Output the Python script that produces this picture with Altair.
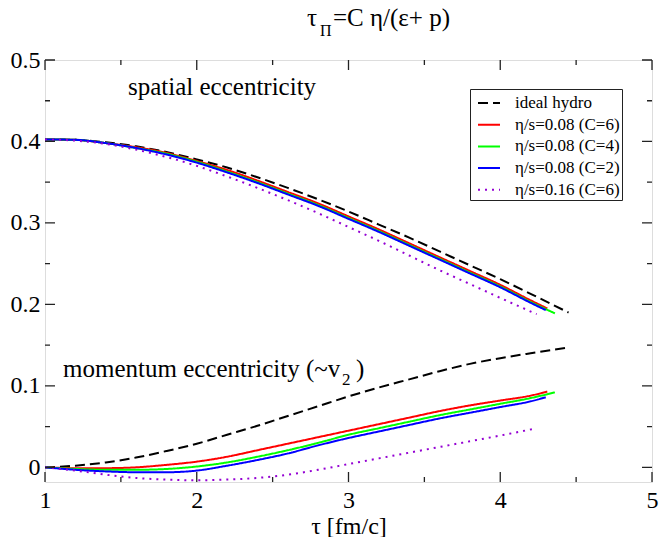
import altair as alt
import pandas as pd

# ---------------- data ----------------
models = ["ideal hydro", "η/s=0.08 (C=6)", "η/s=0.08 (C=4)", "η/s=0.08 (C=2)", "η/s=0.16 (C=6)"]
colors = ["#000000", "#ff0000", "#00ff00", "#0000ff", "#9400d3"]

base_tau = [1.0, 1.2, 1.4, 1.6, 1.8, 2.0, 2.2, 2.4, 2.6, 2.8, 3.0, 3.2, 3.4, 3.6, 3.8, 4.0, 4.2]

ideal_tau = base_tau + [4.45]
ideal_spatial = [0.4025, 0.402, 0.399, 0.394, 0.387, 0.378, 0.368, 0.356, 0.343, 0.329,
                 0.314, 0.298, 0.282, 0.265, 0.248, 0.231, 0.213, 0.190]
ideal_momentum = [0.0, 0.002, 0.006, 0.012, 0.020, 0.029, 0.040, 0.051, 0.063, 0.075,
                  0.087, 0.098, 0.108, 0.118, 0.127, 0.134, 0.140, 0.147]

red_tau = base_tau + [4.31]
red_spatial = [0.4025, 0.402, 0.398, 0.393, 0.386, 0.376, 0.365, 0.352, 0.338, 0.324,
               0.308, 0.292, 0.275, 0.258, 0.241, 0.224, 0.205, 0.195]
red_momentum = [0.0, -0.001, -0.001, 0.000, 0.003, 0.007, 0.013, 0.021, 0.029, 0.037,
                0.045, 0.053, 0.061, 0.069, 0.076, 0.082, 0.088, 0.093]

green_tau = base_tau + [4.36]
green_spatial = [0.4025, 0.402, 0.398, 0.392, 0.385, 0.375, 0.363, 0.350, 0.336, 0.322,
                 0.306, 0.290, 0.273, 0.256, 0.239, 0.222, 0.203, 0.189]
green_momentum = [0.0, -0.002, -0.003, -0.003, -0.002, 0.001, 0.006, 0.013, 0.021, 0.030,
                  0.040, 0.048, 0.056, 0.064, 0.071, 0.078, 0.085, 0.092]

blue_tau = base_tau + [4.30]
blue_spatial = [0.4025, 0.402, 0.398, 0.392, 0.384, 0.374, 0.362, 0.349, 0.335, 0.321,
                0.305, 0.289, 0.272, 0.255, 0.238, 0.221, 0.202, 0.193]
blue_momentum = [0.0, -0.003, -0.005, -0.006, -0.006, -0.004, 0.002, 0.009, 0.017, 0.027,
                 0.036, 0.044, 0.052, 0.060, 0.067, 0.074, 0.081, 0.086]

purple_tau = base_tau[:-1] + [4.24]
purple_spatial = [0.4025, 0.401, 0.397, 0.390, 0.381, 0.370, 0.357, 0.343, 0.328, 0.312,
                  0.295, 0.278, 0.260, 0.242, 0.225, 0.208, 0.188]
purple_momentum = [0.0, -0.004, -0.009, -0.013, -0.015, -0.016, -0.015, -0.013, -0.009, -0.003,
                   0.004, 0.011, 0.018, 0.025, 0.032, 0.039, 0.048]

x_major = [1, 2, 3, 4, 5]
x_minor = [1.5, 2.5, 3.5, 4.5]
y_major = [0.0, 0.1, 0.2, 0.3, 0.4, 0.5]
y_minor = [0.05, 0.15, 0.25, 0.35, 0.45]
x_lim = [1, 5]
y_lim = [-0.018, 0.5]

title_main = ["τ", "Π", "=C η/(ε+ p)"]
note_spatial = ["spatial eccentricity"]
note_momentum = ["momentum eccentricity (~v", "2", ")"]
x_title = "τ [fm/c]"

W, H = 607, 422
FONT = "Liberation Serif, Times New Roman, Times, DejaVu Serif, serif"
MAJ, MIN = 10, 5
TICK = "tick"

# ---------------- build one table (curves + tick segments) ----------------
series = [
    (models[0], ideal_tau, ideal_spatial, ideal_momentum),
    (models[1], red_tau, red_spatial, red_momentum),
    (models[2], green_tau, green_spatial, green_momentum),
    (models[3], blue_tau, blue_spatial, blue_momentum),
    (models[4], purple_tau, purple_spatial, purple_momentum),
]
rows = []
for m, taus, sp, mo in series:
    for t, v in zip(taus, sp):
        rows.append({"model": m, "kind": "spatial", "tau": t, "ecc": v})
    for t, v in zip(taus, mo):
        rows.append({"model": m, "kind": "momentum", "tau": t, "ecc": v})

# one pixel expressed in data units (from the scale's domain and range)
px_x = (x_lim[1] - x_lim[0]) / W
px_y = (y_lim[1] - y_lim[0]) / H

tid = 0
for vals, L in ((x_major, MAJ), (x_minor, MIN)):
    for t in vals:
        for edge, sgn in ((y_lim[0], 1), (y_lim[1], -1)):
            k = f"t{tid}"
            rows.append({"model": TICK, "kind": k, "tau": t, "ecc": edge})
            rows.append({"model": TICK, "kind": k, "tau": t, "ecc": edge + sgn * L * px_y})
            tid += 1
for vals, L in ((y_major, MAJ), (y_minor, MIN)):
    for v in vals:
        for edge, sgn in ((x_lim[0], 1), (x_lim[1], -1)):
            k = f"t{tid}"
            rows.append({"model": TICK, "kind": k, "tau": edge, "ecc": v})
            rows.append({"model": TICK, "kind": k, "tau": edge + sgn * L * px_x, "ecc": v})
            tid += 1
df = pd.DataFrame(rows)

xscale = alt.Scale(domain=x_lim, nice=False, zero=False)
yscale = alt.Scale(domain=y_lim, nice=False, zero=False)

leg = alt.Legend(
    title=None, orient="none", legendX=425, legendY=29, values=models,
    symbolType="stroke", symbolSize=484, symbolStrokeWidth=2, symbolOffset=5,
    labelFont=FONT, labelFontSize=17, labelColor="black",
    strokeColor="#222222", fillColor="white", padding=2, rowPadding=1.7,
    labelOffset=14,
)

lines = alt.Chart(df).mark_line(interpolate="monotone").encode(
    x=alt.X("tau:Q", scale=xscale,
            axis=alt.Axis(values=x_major, title=x_title, ticks=False, domain=False, grid=False,
                          format="d",
                          labelFont=FONT, labelFontSize=24, labelColor="black", labelPadding=6,
                          titleFont=FONT, titleFontSize=24, titleFontWeight="normal",
                          titleColor="black", titlePadding=2, labelFlush=False)),
    y=alt.Y("ecc:Q", scale=yscale,
            axis=alt.Axis(values=y_major, title=None, ticks=False, domain=False, grid=False,
                          labelFont=FONT, labelFontSize=24, labelColor="black", labelPadding=5,
                          labelFlush=False, format="~g")),
    color=alt.Color("model:N", scale=alt.Scale(domain=models + [TICK], range=colors + ["#222222"]),
                    legend=leg),
    strokeDash=alt.StrokeDash("model:N", scale=alt.Scale(domain=models + [TICK],
                              range=[[10, 5], [1, 0], [1, 0], [1, 0], [2, 5], [1, 0]]), legend=leg),
    strokeWidth=alt.condition(f"datum.model == '{TICK}'", alt.value(1.3), alt.value(2)),
    detail="kind:N",
)

def label(txt, x, y, size, align="left"):
    return alt.Chart(pd.DataFrame({"t": [txt]})).mark_text(
        font=FONT, fontSize=size, color="black", align=align, baseline="alphabetic"
    ).encode(text="t:N", x=alt.value(x), y=alt.value(y))

texts = [
    label(title_main[0], 262, -34, 25),
    label(title_main[1], 275, -24, 16),
    label(title_main[2], 288, -34, 25),
    label(note_spatial[0], 83, 35, 25),
    label(note_momentum[0], 18, 317, 25),
    label(note_momentum[1], 297, 325, 17),
    label(note_momentum[2], 311, 317, 25),
]

chart = alt.layer(lines, *texts).properties(
    width=W, height=H,
    padding={"left": 45, "top": 60, "right": 7, "bottom": 537 - 60 - H},
    autosize=alt.AutoSizeParams(type="none"),
).configure_view(stroke="black", strokeWidth=3).configure(background="white")

chart.save("out.html", embed_options={"renderer": "svg", "actions": False})
